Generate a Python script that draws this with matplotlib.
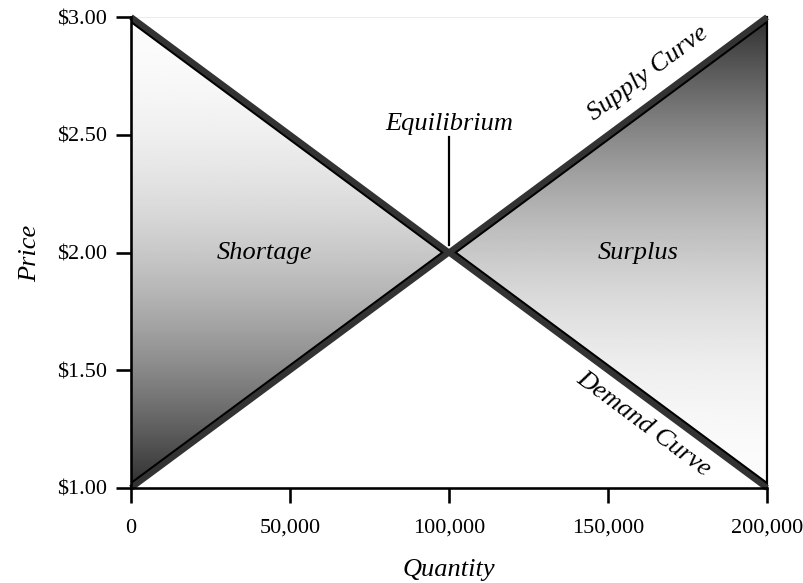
import numpy as np
import matplotlib
matplotlib.use("Agg")
import matplotlib.pyplot as plt
from matplotlib.patches import Polygon
from matplotlib.lines import Line2D

# ---- data ----
quantity_ticks = [0, 50000, 100000, 150000, 200000]
quantity_labels = ["0", "50,000", "100,000", "150,000", "200,000"]
price_ticks = [1.00, 1.50, 2.00, 2.50, 3.00]
price_labels = ["$1.00", "$1.50", "$2.00", "$2.50", "$3.00"]

supply_q = [0, 200000]
supply_p = [1.00, 3.00]
demand_q = [0, 200000]
demand_p = [3.00, 1.00]

equilibrium_q = 100000
equilibrium_p = 2.00

shortage_q = [0, 100000, 0]
shortage_p = [3.00, 2.00, 1.00]
surplus_q = [100000, 200000, 200000]
surplus_p = [2.00, 3.00, 1.00]

FONT = ["Liberation Serif", "DejaVu Serif"]
plt.rcParams["font.family"] = FONT

DPI = 100
fig = plt.figure(figsize=(8.04, 5.83), dpi=DPI)
L, R, T, B = 131, 767, 17, 488
W, H = 804, 583
ax = fig.add_axes([L / W, (H - B) / H, (R - L) / W, (B - T) / H])
ax.set_xlim(0, 200000)
ax.set_ylim(1.0, 3.0)

px = 72.0 / DPI  # points per pixel

# faint top gridline
ax.axhline(3.0, color="#ececec", lw=1.2 * px, zorder=0)

def gradient(dark_at_top):
    t = np.linspace(0, 1, 256)[:, None]  # 0 at top row
    if dark_at_top:
        t = 1 - t
    v = 0.985 - 0.80 * t ** 2.0
    return np.repeat(v, 2, axis=1)

def draw_region(qs, ps, dark_at_top):
    poly = Polygon(list(zip(qs, ps)), closed=True, facecolor="none",
                   edgecolor="none")
    ax.add_patch(poly)
    img = ax.imshow(gradient(dark_at_top), cmap="gray", vmin=0, vmax=1,
                    extent=[min(qs), max(qs), min(ps), max(ps)],
                    aspect="auto", interpolation="bilinear", zorder=1,
                    origin="upper")
    img.set_clip_path(poly)
    return poly

short_poly = draw_region(shortage_q, shortage_p, dark_at_top=False)
surp_poly = draw_region(surplus_q, surplus_p, dark_at_top=True)

# inset black edges (clipped to each triangle)
gray_w = 6.0
black_w = 2.0
e1 = Line2D(shortage_q, shortage_p, color="black",
            lw=2 * (gray_w / 2 + black_w) * px, zorder=2, solid_joinstyle="miter")
ax.add_line(e1)
e1.set_clip_path(short_poly)
e2 = Line2D([surplus_q[1], surplus_q[0], surplus_q[2]],
            [surplus_p[1], surplus_p[0], surplus_p[2]], color="black",
            lw=2 * (gray_w / 2 + black_w) * px, zorder=2, solid_joinstyle="miter")
ax.add_line(e2)
e2.set_clip_path(surp_poly)
ax.plot([surplus_q[1], surplus_q[2]], [surplus_p[1], surplus_p[2]],
        color="black", lw=2.2 * px, zorder=2, clip_on=False)

# supply & demand curves
ax.plot(supply_q, supply_p, color="#333333", lw=gray_w * px, zorder=3,
        solid_capstyle="butt", clip_on=False)
ax.plot(demand_q, demand_p, color="#333333", lw=gray_w * px, zorder=3,
        solid_capstyle="butt", clip_on=False)

# equilibrium marker line
ax.plot([equilibrium_q, equilibrium_q], [2.03, 2.49], color="black",
        lw=2.2 * px, zorder=4)

fs_lab = 19
ax.text(equilibrium_q, 2.545, "Equilibrium", style="italic", fontsize=fs_lab,
        ha="center", va="center", zorder=5)
ax.text(42000, 2.0, "Shortage", style="italic", fontsize=fs_lab,
        ha="center", va="center", zorder=5)
ax.text(159500, 2.0, "Surplus", style="italic", fontsize=fs_lab,
        ha="center", va="center", zorder=5)

ang = np.degrees(np.arctan((B - T) / (R - L)))
ax.text(162500, 2.76, "Supply Curve", style="italic", fontsize=fs_lab,
        ha="center", va="center", rotation=ang, rotation_mode="anchor", zorder=5)
ax.text(161000, 1.27, "Demand Curve", style="italic", fontsize=fs_lab,
        ha="center", va="center", rotation=-ang, rotation_mode="anchor", zorder=5)

# axes styling
for s in ["top", "right"]:
    ax.spines[s].set_visible(False)
for s in ["left", "bottom"]:
    ax.spines[s].set_linewidth(2.6 * px)
    ax.spines[s].set_zorder(6)
ax.set_xticks(quantity_ticks)
ax.set_xticklabels(quantity_labels)
ax.set_yticks(price_ticks)
ax.set_yticklabels(price_labels)
ax.tick_params(axis="both", length=11, width=2.6 * px, color="black",
               labelsize=16, direction="out")
ax.tick_params(axis="x", pad=11)
ax.tick_params(axis="y", pad=6)

fig.text((L + R) / 2 / W, 1 - 570 / H, "Quantity", style="italic",
         fontsize=fs_lab, ha="center", va="center")
fig.text(30 / W, 1 - 253 / H, "Price", style="italic", fontsize=fs_lab,
         ha="center", va="center", rotation=90)

fig.savefig("out.png", dpi=DPI)
